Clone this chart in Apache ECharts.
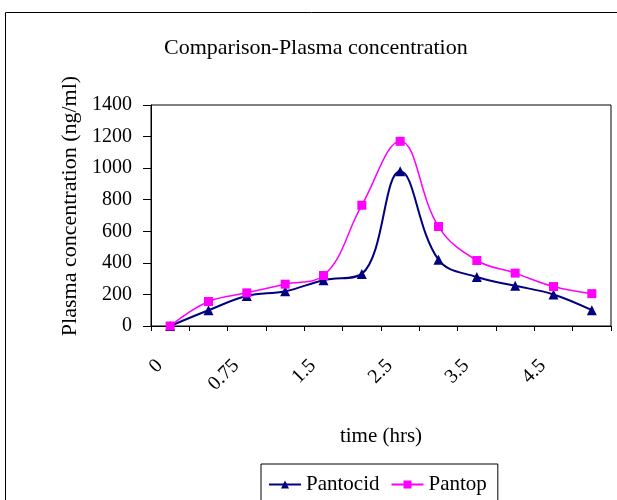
<!DOCTYPE html>
<html><head><meta charset="utf-8">
<script src="https://cdn.jsdelivr.net/npm/echarts@6/dist/echarts.min.js"></script>
<style>html,body{margin:0;padding:0;background:#fff}#c{width:617px;height:500px}</style>
</head><body><div id="c"></div>
<script>
const categories = ['0','0.5','0.75','1','1.5','2','2.5','3','3.5','4','4.5','5'];
const pantocid = [0,100,190,220,290,330,980,420,310,255,200,100];
const pantop = [0,155,210,265,320,765,1170,630,415,335,250,205];
const yTicks = [0,200,400,600,800,1000,1200,1400];

const font = '"Liberation Serif","Times New Roman",serif';
const chart = echarts.init(document.getElementById('c'));
chart.setOption({
  animation:false,
  backgroundColor:'#fff',
  textStyle:{fontFamily:font,color:'#000'},
  title:{text:'Comparison-Plasma concentration',left:159,top:32,
    textStyle:{fontFamily:font,fontWeight:'normal',fontSize:22,color:'#000'}},
  grid:{left:151,right:6,top:105,bottom:174,show:true,borderColor:'#000',borderWidth:1,backgroundColor:'transparent'},
  legend:{left:261,top:464,itemGap:11,padding:[10,11,10,7],borderColor:'#000',borderWidth:1,
    itemWidth:32,itemHeight:10,
    textStyle:{fontFamily:font,fontSize:21,color:'#000'},
    data:['Pantocid','Pantop']},
  xAxis:{type:'category',data:categories,boundaryGap:true,
    name:'time (hrs)',nameLocation:'middle',nameGap:100,
    nameTextStyle:{fontFamily:font,fontSize:21,color:'#000'},
    axisLine:{lineStyle:{color:'#000',width:1}},
    axisTick:{show:true,interval:0,length:5,lineStyle:{color:'#000'}},
    axisLabel:{interval:1,rotate:45,margin:26,padding:[0,15,0,0],fontFamily:font,fontSize:20,color:'#000'}},
  yAxis:{type:'value',min:0,max:1400,interval:200,
    name:'Plasma concentration (ng/ml)',nameLocation:'middle',nameGap:68,
    nameTextStyle:{fontFamily:font,fontSize:22,color:'#000',padding:[0,0,0,19]},
    axisLine:{show:true,lineStyle:{color:'#000',width:1}},
    axisTick:{show:true,length:8,lineStyle:{color:'#000'}},
    splitLine:{show:false},
    axisLabel:{margin:19,fontFamily:font,fontSize:20,color:'#000',
      formatter:v=>yTicks.includes(v)?String(v):''}},
  series:[
    {name:'Pantocid',type:'line',data:pantocid,smooth:0.4,symbol:'triangle',symbolSize:10,
     lineStyle:{color:'#000080',width:2},itemStyle:{color:'#000080'}},
    {name:'Pantop',type:'line',data:pantop,smooth:0.4,symbol:'rect',symbolSize:9,
     lineStyle:{color:'#FF00FF',width:1.5},itemStyle:{color:'#FF00FF'}}
  ],
  graphic:[{type:'rect',shape:{x:5.5,y:12.5,width:700,height:600},
    style:{fill:'none',stroke:'#000',lineWidth:1},silent:true}]
});
</script></body></html>
